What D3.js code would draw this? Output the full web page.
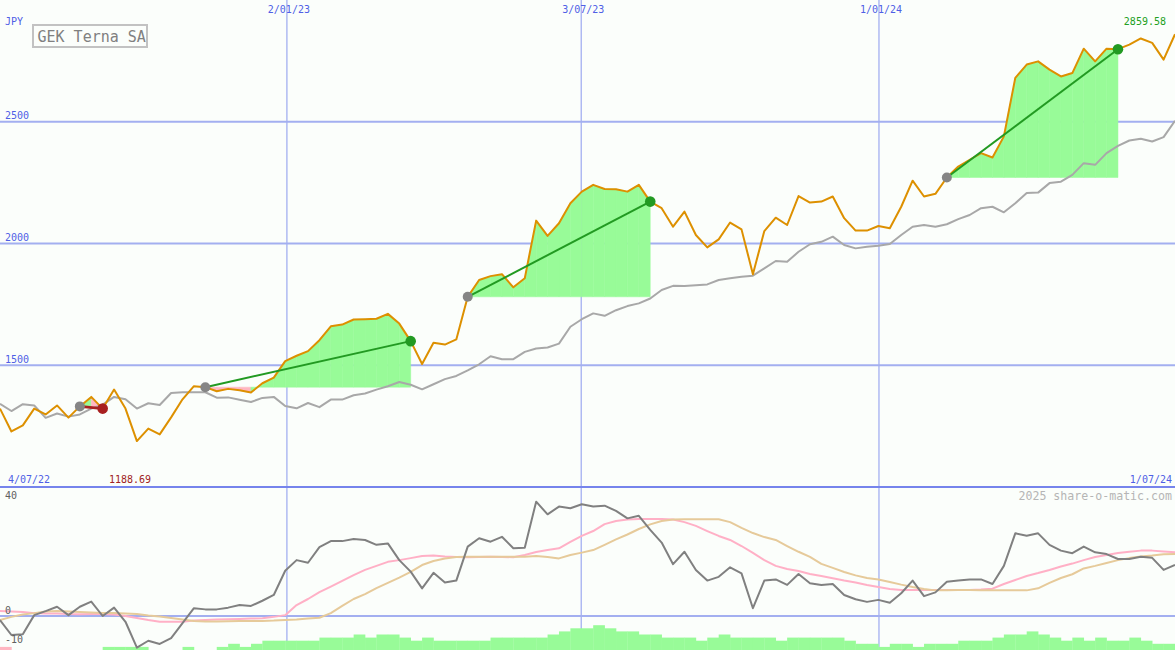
<!DOCTYPE html>
<html><head><meta charset="utf-8">
<script src="https://cdn.jsdelivr.net/npm/d3@7"></script>
<style>
body{margin:0;background:#fbfefb;}
svg{display:block;}
text{font-family:"DejaVu Sans Mono",monospace;}
</style>
</head><body>
<svg id="c" width="1175" height="650"></svg>
<script>
// ---------- data (weekly points) ----------
const price = [1322,1228,1253,1322,1298,1335,1285,1331,1370,1322,
1400,1322,1188.69,1240,1216,1286,1360,1414,1410,1393,
1403,1397,1388,1426,1449,1517,1539,1558,1603,1660,
1667,1688,1689,1691,1711,1671,1599,1505,1592,1585,
1606,1781,1850,1866,1874,1820,1857,2094,2031,2083,
2165,2213,2241,2224,2223,2213,2241,2172,2145,2069,
2131,2035,1984,2017,2086,2058,1874,2051,2106,2076,
2195,2168,2172,2193,2104,2053,2053,2072,2063,2151,
2258,2193,2204,2271,2316,2344,2371,2353,2440,2680,
2735,2748,2714,2686,2700,2800,2748,2800,2798,2817,
2842,2824,2755,2859.58];
const movingAvg = [1342,1312,1340,1335,1284,1302,1289,1298,1322,1338,
1370,1360,1322,1344,1337,1386,1389,1389,1389,1367,
1368,1358,1349,1366,1370,1333,1323,1345,1328,1359,
1359,1377,1384,1400,1414,1431,1420,1401,1422,1443,
1456,1479,1504,1537,1525,1525,1555,1569,1573,1589,
1658,1689,1713,1703,1726,1743,1754,1774,1809,1826,
1825,1829,1832,1850,1857,1863,1868,1898,1928,1925,
1966,1997,2007,2028,1994,1980,1987,1991,1998,2035,
2069,2076,2069,2079,2100,2117,2145,2151,2128,2165,
2207,2209,2248,2254,2282,2330,2323,2371,2401,2423,
2430,2419,2437,2504];
const osc = [-1.4,-6.6,-6.3,0.3,1.7,3.2,0.3,3.2,5.0,0.0,
2.9,-2.0,-11.0,-8.6,-9.7,-7.7,-2.5,2.7,2.3,2.3,
2.9,3.8,3.5,5.3,7.3,15.7,19.4,18.5,23.9,26.0,
26.0,26.7,26.4,24.7,25.2,19.4,15.4,9.6,15.0,11.6,
12.3,24.1,27.0,25.8,27.5,23.5,23.7,39.7,35.3,38.0,
37.4,38.8,38.0,38.3,36.5,33.9,34.8,29.9,25.5,18.0,
22.3,16.0,12.3,13.6,16.9,14.8,2.7,12.3,12.7,10.8,
14.6,11.4,10.8,11.1,7.3,5.8,4.9,5.6,4.6,7.9,
12.3,6.9,8.2,11.9,12.3,12.7,12.7,11.1,17.4,28.7,
27.9,28.7,24.7,22.7,21.8,24.1,22.1,21.5,19.8,19.8,
20.6,20.2,16.0,17.7];
const oscFast = [1.7,1.6,1.4,1.0,0.9,0.9,0.7,0.6,0.7,0.7,
0.5,0.0,-0.7,-1.4,-2.0,-2.0,-2.0,-1.6,-1.4,-1.2,
-1.1,-1.0,-0.9,-0.8,-0.3,0.3,3.8,5.9,8.3,10.2,
12.2,14.2,16.0,17.4,18.8,19.4,20.1,20.8,21.0,20.7,
20.5,20.4,20.5,20.6,20.5,20.4,21.2,22.2,22.9,23.5,
25.7,27.8,29.5,31.9,33.0,33.5,33.7,33.7,33.7,33.5,
32.6,31.3,29.5,27.8,26.4,24.3,21.9,19.4,17.4,16.3,
15.6,14.6,13.9,13.1,12.3,11.6,10.8,10.1,9.4,9.0,
9.0,9.0,9.0,9.0,9.0,9.0,9.2,9.5,11.1,12.5,
13.9,14.9,16.0,17.2,18.2,19.4,20.5,21.2,21.9,22.3,
22.7,22.7,22.4,22.1];
const oscSlow = [-1.4,-0.3,0.5,1.0,1.6,1.7,1.6,1.4,1.2,1.0,
1.0,0.9,0.7,0.2,-0.2,-0.7,-1.2,-1.7,-1.9,-1.9,
-1.8,-1.7,-1.7,-1.7,-1.6,-1.4,-1.2,-0.9,-0.6,1.0,
3.5,5.9,7.6,9.7,11.5,13.3,15.3,17.7,19.1,20.0,
20.5,20.6,20.6,20.6,20.6,20.6,20.6,20.8,20.5,20.0,
21.2,22.0,22.9,24.7,26.6,28.3,30.2,31.8,33.0,33.5,
33.6,33.6,33.6,33.6,32.6,30.6,28.8,27.4,26.4,24.3,
22.3,20.5,18.1,16.7,15.3,14.1,13.2,12.7,11.8,10.9,
10.1,9.4,8.9,8.9,9.0,9.0,8.9,8.9,8.9,8.9,
8.9,9.6,11.5,13.2,14.5,16.5,17.4,18.4,19.4,20.1,
20.7,21.0,21.4,21.5];
const hist = [-1,0,0,0,0,0,0,0,0,1,
1,1,1,0,0,0,1,0,0,1,
2,1,2,3,3,3,3,3,4,4,
4,5,4,5,5,4,3,4,3,3,
3,3,3,4,4,4,4,4,5,6,
7,7,8,7,6,6,5,5,4,4,
4,3,4,5,4,4,4,4,3,4,
4,4,4,4,3,2,2,1,2,2,
1,2,2,2,3,3,3,4,5,5,
6,5,4,3,4,3,4,3,3,4,
3,2,2];
const tradeEntry = [7,18,41,83];
const tradeExit  = [9,36,57,98];
const priceTicks = [2500,2000,1500];
const oscTicks = [40,0,-10];
const dateTicks = ["2/01/23","3/07/23","1/01/24"];
const dateTickIdx = [25.15,50.95,77.05];
const startLabel = "4/07/22", endLabel = "1/07/24";
const title = "GEK Terna SA", currency = "JPY";
const watermark = "2025 share-o-matic.com";

// ---------- scales ----------
const W = 1175, H = 650;
const x = d3.scaleLinear().domain([0, price.length - 1]).range([0, W]);
const y = d3.scaleLinear().domain([1000, 3000]).range([487, 0]);
const yo = d3.scaleLinear().domain([-10, 40]).range([644.8, 500.8]);
const yh = d3.scaleLinear().domain([0, 8]).range([H, H - 24.8]);

const svg = d3.select("#c");
const C = {
  bg:"#fbfefb", grid:"#a3aff0", sep:"#7684ec", blue:"#4f5fe6",
  orange:"#dd9000", avg:"#a8a8a8", osc:"#808080", fast:"#ffb0c6", slow:"#e6ca9a",
  green:"#98fb98", pink:"#ffb6c1", trend:"#229a22", loss:"#a82020", entry:"#858585"
};
svg.append("rect").attr("width", W).attr("height", H).attr("fill", C.bg);

// grid
svg.selectAll("line.hg").data(priceTicks).join("line")
  .attr("x1", 0).attr("x2", W).attr("y1", d => y(d)).attr("y2", d => y(d))
  .attr("stroke", C.grid).attr("stroke-width", 2);
svg.selectAll("line.vg").data(dateTickIdx).join("line")
  .attr("x1", d => x(d)).attr("x2", d => x(d)).attr("y1", 0).attr("y2", H)
  .attr("stroke", C.grid).attr("stroke-width", 1.3);
svg.append("line").attr("x1", 0).attr("x2", W).attr("y1", yo(0)).attr("y2", yo(0))
  .attr("stroke", C.grid).attr("stroke-width", 2);
svg.append("line").attr("x1", 0).attr("x2", W).attr("y1", y(1000)).attr("y2", y(1000))
  .attr("stroke", C.sep).attr("stroke-width", 2.2);

// histogram
svg.selectAll("rect.h").data(hist).join("rect")
  .attr("x", (d, i) => x(i)).attr("width", (d, i) => x(i + 1) - x(i) + 0.3)
  .attr("y", d => yh(Math.abs(d))).attr("height", d => H - yh(Math.abs(d)))
  .attr("fill", d => d < 0 ? C.pink : C.green);

// oscillator lines
const lo = d3.line().x((d, i) => x(i)).y(d => yo(d));
[[oscFast, C.fast], [oscSlow, C.slow], [osc, C.osc]].forEach(([arr, col]) => {
  svg.append("path").attr("d", lo(arr)).attr("fill", "none")
    .attr("stroke", col).attr("stroke-width", 2).attr("stroke-linejoin", "round");
});

// trade fills
tradeEntry.forEach((e, k) => {
  const base = price[e];
  for (let i = e; i < tradeExit[k]; i++) {
    const seg = [i, i + 1];
    const a = d3.area().x(j => x(j)).y0(y(base)).y1(j => y(price[j]));
    svg.append("path").attr("d", a(seg))
      .attr("fill", price[i + 1] >= base ? C.green : C.pink)
      .attr("stroke", price[i + 1] >= base ? C.green : C.pink).attr("stroke-width", 0.5);
  }
});

// main lines
const lp = d3.line().x((d, i) => x(i)).y(d => y(d));
svg.append("path").attr("d", lp(movingAvg)).attr("fill", "none")
  .attr("stroke", C.avg).attr("stroke-width", 2).attr("stroke-linejoin", "round");
svg.append("path").attr("d", lp(price)).attr("fill", "none")
  .attr("stroke", C.orange).attr("stroke-width", 2).attr("stroke-linejoin", "round");

// trades
tradeEntry.forEach((e, k) => {
  const xo = tradeExit[k];
  const win = price[xo] >= price[e];
  svg.append("line").attr("x1", x(e)).attr("y1", y(price[e])).attr("x2", x(xo)).attr("y2", y(price[xo]))
    .attr("stroke", win ? C.trend : C.loss).attr("stroke-width", win ? 2 : 2.6);
  svg.append("circle").attr("cx", x(e)).attr("cy", y(price[e])).attr("r", 5).attr("fill", C.entry);
  svg.append("circle").attr("cx", x(xo)).attr("cy", y(price[xo])).attr("r", 5.3).attr("fill", win ? C.trend : C.loss);
});

// texts
const fs = 10;
svg.append("text").attr("x", 5).attr("y", 24.5).attr("font-size", fs).attr("fill", C.blue).text(currency);
svg.selectAll("text.pt").data(priceTicks).join("text")
  .attr("x", 5).attr("y", d => y(d) - 2.5).attr("font-size", fs).attr("fill", C.blue).text(d => d);
svg.selectAll("text.dt").data(dateTicks).join("text")
  .attr("x", (d, i) => x(dateTickIdx[i]) + 2).attr("y", 12.5).attr("text-anchor", "middle")
  .attr("font-size", fs).attr("fill", C.blue).text(d => d);
svg.append("text").attr("x", 8).attr("y", 483.3).attr("font-size", fs).attr("fill", C.blue).text(startLabel);
svg.append("text").attr("x", W - 3).attr("y", 483.3).attr("text-anchor", "end").attr("font-size", fs).attr("fill", C.blue).text(endLabel);

const iMin = d3.minIndex(price), iMax = d3.maxIndex(price);
svg.append("text").attr("x", x(iMin) - 28).attr("y", 483.3).attr("font-size", fs).attr("fill", "#a02222").text(price[iMin].toFixed(2));
svg.append("text").attr("x", x(iMax) - 9).attr("y", 25).attr("text-anchor", "end").attr("font-size", fs).attr("fill", "#22a022").text(price[iMax].toFixed(2));

svg.selectAll("text.ot").data(oscTicks).join("text")
  .attr("x", 5).attr("y", d => Math.min(yo(d) - 2, 646)).attr("font-size", fs).attr("fill", "#606060").text(d => d);
svg.append("text").attr("x", W - 3).attr("y", 499.5).attr("text-anchor", "end")
  .attr("font-size", 11.6).attr("fill", "#b5b5b5").text(watermark);

// title box
svg.append("rect").attr("x", 33).attr("y", 25).attr("width", 114).attr("height", 22)
  .attr("fill", C.bg).attr("stroke", "#c2c2c2").attr("stroke-width", 2);
svg.append("text").attr("x", 37.5).attr("y", 41.5).attr("font-size", 15).attr("fill", "#808080").text(title);
</script>
</body></html>
